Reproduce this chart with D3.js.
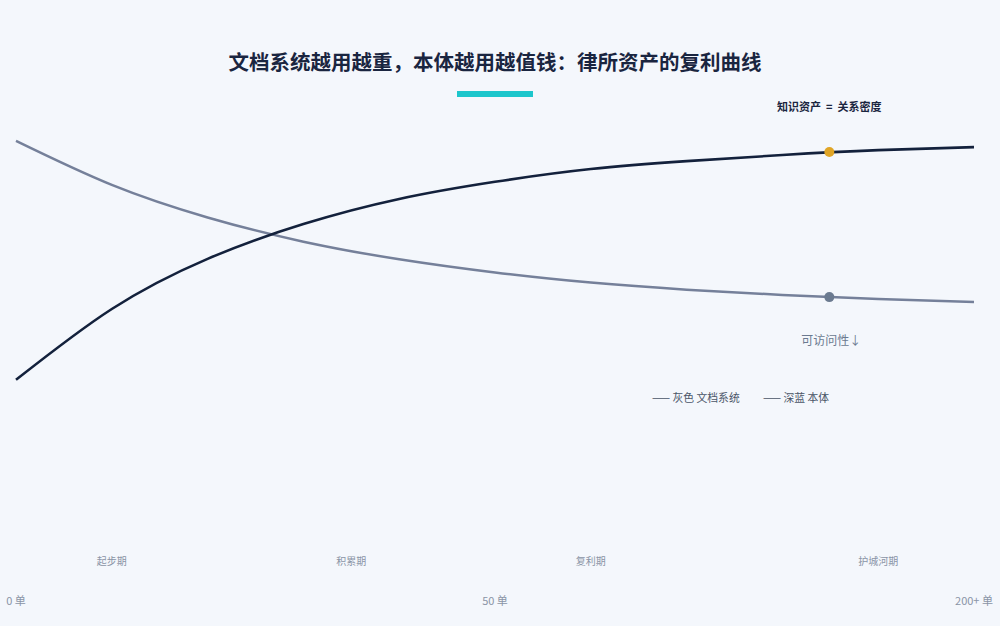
<!DOCTYPE html>
<html><head><meta charset="utf-8">
<script src="https://cdn.jsdelivr.net/npm/d3@7"></script>
<style>
html,body{margin:0;padding:0;background:#f4f7fc;}
svg{display:block;font-family:"Noto Sans CJK SC","Noto Sans",sans-serif;}
</style></head>
<body><svg id="c" width="1000" height="626"></svg>
<script>
// progress along the x axis (0 = 0 单, 100 = 200+ 单)
const steps = [0, 10, 20, 30, 40, 50, 60, 70, 80, 90, 100];
// 文档系统 (gray) accessibility, declining
const docValues = [90.7, 80.7, 73.3, 67.8, 63.8, 60.8, 58.5, 56.9, 55.7, 54.8, 54.1];
// 本体 (dark) knowledge asset, rising
const ontoValues = [36.4, 52.5, 63.9, 71.8, 77.5, 81.4, 84.3, 86.1, 87.5, 88.6, 89.3];
// highlighted points
const markStep = 84.9;
const markOnto = 88.2;
const markDoc = 55.2;
// phases
const phaseNames = ["起步期", "积累期", "复利期", "护城河期"];
const phasePos = [10, 35, 60, 90];
// bottom tick labels
const tickNames = ["0 单", "50 单", "200+ 单"];
const tickPos = [0, 50, 100];

const svg = d3.select("#c");
const x = d3.scaleLinear().domain([0, 100]).range([16, 974]);
const y = d3.scaleLinear().domain([0, 100]).range([540, 100]);

svg.append("rect").attr("width", 1000).attr("height", 626).attr("fill", "#f4f7fc");

svg.append("text").attr("x", 495).attr("y", 70).attr("text-anchor", "middle")
  .attr("font-size", 20.5).attr("font-weight", 700).attr("fill", "#1a2540")
  .text("文档系统越用越重，本体越用越值钱：律所资产的复利曲线");
svg.append("rect").attr("x", 457).attr("y", 91).attr("width", 76).attr("height", 6).attr("fill", "#1cc6cc");

const line = d3.line().x(d => x(d[0])).y(d => y(d[1])).curve(d3.curveNatural);

svg.append("path").datum(steps.map((s, i) => [s, docValues[i]]))
  .attr("d", line).attr("fill", "none").attr("stroke", "#75809a").attr("stroke-width", 2.5);
svg.append("path").datum(steps.map((s, i) => [s, ontoValues[i]]))
  .attr("d", line).attr("fill", "none").attr("stroke", "#13213c").attr("stroke-width", 2.6);

svg.append("circle").attr("cx", x(markStep)).attr("cy", y(markOnto)).attr("r", 5).attr("fill", "#e0a526");
svg.append("circle").attr("cx", x(markStep)).attr("cy", y(markDoc)).attr("r", 5).attr("fill", "#6b7a90");

svg.append("text").attr("x", x(markStep)).attr("y", 111).attr("text-anchor", "middle")
  .attr("font-size", 11).attr("font-weight", 700).attr("fill", "#1a2540").attr("xml:space", "preserve")
  .text("知识资产  =  关系密度");
svg.append("text").attr("x", x(markStep) + 2).attr("y", 345).attr("text-anchor", "middle")
  .attr("font-size", 12).attr("fill", "#6b7a90").text("可访问性↓");

svg.append("text").attr("x", 652).attr("y", 402).attr("font-size", 10.8).attr("fill", "#4a5568").text("—— 灰色 文档系统");
svg.append("text").attr("x", 763).attr("y", 402).attr("font-size", 10.8).attr("fill", "#4a5568").text("—— 深蓝 本体");

svg.selectAll(".phase").data(phaseNames).enter().append("text")
  .attr("x", (d, i) => x(phasePos[i])).attr("y", 565).attr("text-anchor", "middle")
  .attr("font-size", 10).attr("fill", "#8a94a6").text(d => d);

svg.selectAll(".tick").data(tickNames).enter().append("text")
  .attr("x", (d, i) => x(tickPos[i])).attr("y", 605).attr("text-anchor", "middle")
  .attr("font-size", 11).attr("fill", "#8a94a6").text(d => d);
</script></body></html>
